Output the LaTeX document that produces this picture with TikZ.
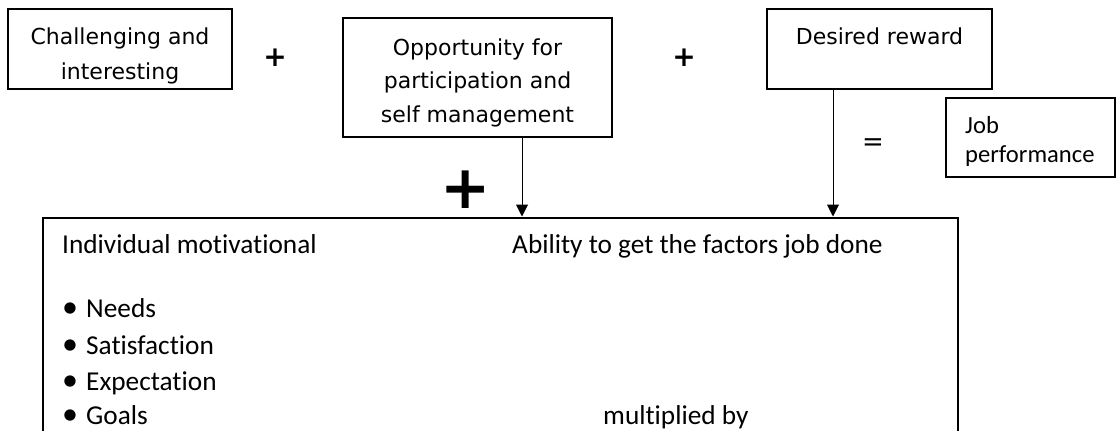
\documentclass[tikz,border=0pt]{standalone}
\usepackage{fontspec}
\setmainfont{Carlito}[Ligatures=NoCommon]
\newfontfamily\tahfont{DejaVu Sans}
\usetikzlibrary{arrows.meta}
\begin{document}
\begin{tikzpicture}[x=1pt,y=-1pt,
  box/.style={draw, line width=1.3pt, inner sep=0pt},
  bigbox/.style={draw, line width=2pt, inner sep=0pt},
  toptext/.style={anchor=base, inner sep=0pt, font=\tahfont\fontsize{22}{26}\selectfont},
  bodytext/.style={anchor=base west, inner sep=0pt, font=\fontsize{27.3}{32}\selectfont},
  jobtext/.style={anchor=base west, inner sep=0pt, font=\fontsize{24.6}{29}\selectfont},
  bul/.style={anchor=base, inner sep=0pt, font=\fontsize{32}{32}\selectfont},
  smallplus/.style={inner sep=0pt, font=\tahfont\bfseries\fontsize{28}{28}\selectfont},
  arr/.style={line width=1pt, -{Triangle[length=12pt,width=12pt]}}]
\path[use as bounding box, clip] (0,0) rectangle (1117,431);
\fill[white] (0,0) rectangle (1117,431);

% boxes
\node[box, minimum width=224pt, minimum height=80pt] (box1) at (120,49) {};
\node[box, minimum width=269pt, minimum height=119pt] (box2) at (477.5,77.5) {};
\node[box, minimum width=225pt, minimum height=80pt] (box3) at (879.5,49) {};
\node[box, minimum width=169pt, minimum height=79pt] (job) at (1030.5,137.5) {};
\node[bigbox, minimum width=915pt, minimum height=282.5pt] (big) at (500.5,358.75) {};

% top texts
\node[toptext] (t1a) at (120,45) {Challenging and};
\node[toptext] (t1b) at (120,79) {interesting};
\node[toptext] (t2a) at (477.5,55) {Opportunity for};
\node[toptext] (t2b) at (477.5,88) {participation and};
\node[toptext] (t2c) at (477.5,122) {self management};
\node[toptext] (t3) at (879.5,45) {Desired reward};

% operators
\node[smallplus] (p1) at (275,58) {+};
\node[smallplus] (p2) at (684,58) {+};
\node[inner sep=0pt, font=\tahfont\bfseries\fontsize{60}{60}\selectfont] (p3) at (466,190) {+};
\node[inner sep=0pt, font=\tahfont\fontsize{26}{26}\selectfont] (eq) at (873,145) {=};

% job performance
\node[jobtext] (j1) at (965,133) {Job};
\node[jobtext] (j2) at (965,162) {performance};

% big box texts
\node[bodytext] (ind) at (62,253) {Individual motivational};
\node[bodytext] (abi) at (512,253) {Ability to get the factors job done};
\node[bul] (b1) at (70,317) {•};
\node[bul] (b2) at (70,354) {•};
\node[bul] (b3) at (70,390) {•};
\node[bul] (b4) at (70,424) {•};
\node[bodytext] (n1) at (86,317) {Needs};
\node[bodytext] (n2) at (86,354) {Satisfaction};
\node[bodytext] (n3) at (86,390) {Expectation};
\node[bodytext] (n4) at (86,424) {Goals};
\node[bodytext] (mul) at (603,424) {multiplied by};

% arrows
\coordinate (ax1) at (522,0);
\coordinate (ax2) at (833,0);
\draw[arr] (box2.south -| ax1) -- (big.north -| ax1);
\draw[arr] (box3.south -| ax2) -- (big.north -| ax2);
\end{tikzpicture}
\end{document}
